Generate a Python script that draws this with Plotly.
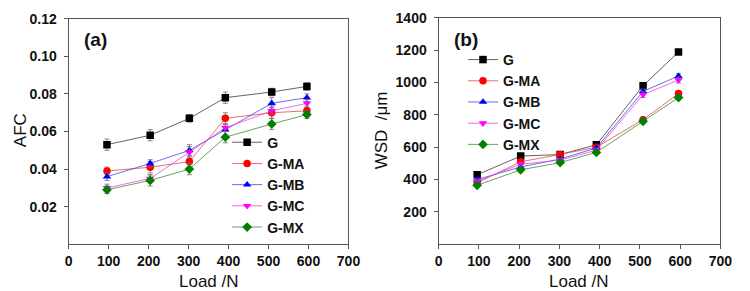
import plotly.graph_objects as go

load = [96, 204, 302, 392, 508, 596]
series = ["G", "G-MA", "G-MB", "G-MC", "G-MX"]

afc = {
    "G":    [0.053, 0.058, 0.067, 0.078, 0.081, 0.084],
    "G-MA": [0.039, 0.041, 0.044, 0.067, 0.070, 0.071],
    "G-MB": [0.036, 0.043, 0.050, 0.061, 0.075, 0.078],
    "G-MC": [0.030, 0.035, 0.049, 0.062, 0.071, 0.075],
    "G-MX": [0.029, 0.034, 0.040, 0.057, 0.064, 0.069],
}
afc_err = {
    "G":    [0.003, 0.003, 0.002, 0.003, 0.002, 0.002],
    "G-MA": [0.002, 0.003, 0.003, 0.003, 0.003, 0.002],
    "G-MB": [0.002, 0.002, 0.003, 0.003, 0.003, 0.002],
    "G-MC": [0.002, 0.002, 0.003, 0.002, 0.002, 0.002],
    "G-MX": [0.002, 0.003, 0.003, 0.003, 0.003, 0.002],
}
wsd = {
    "G":    [430, 545, 555, 615, 980, 1188],
    "G-MA": [380, 510, 555, 600, 770, 932],
    "G-MB": [400, 478, 527, 595, 945, 1040],
    "G-MC": [390, 495, 520, 582, 925, 1015],
    "G-MX": [365, 460, 505, 568, 760, 907],
}
wsd_err = {
    "G":    [15, 15, 12, 15, 18, 15],
    "G-MA": [12, 15, 12, 12, 15, 15],
    "G-MB": [12, 12, 12, 12, 15, 15],
    "G-MC": [12, 12, 12, 12, 18, 18],
    "G-MX": [12, 12, 12, 12, 15, 15],
}

afc_ticks = [0.02, 0.04, 0.06, 0.08, 0.10, 0.12]
afc_ticktext = ["0.02", "0.04", "0.06", "0.08", "0.10", "0.12"]
wsd_ticks = [200, 400, 600, 800, 1000, 1200, 1400]
x_ticks = [0, 100, 200, 300, 400, 500, 600, 700]

marker_color = {"G": "#000000", "G-MA": "#ff0000", "G-MB": "#0000ff",
                "G-MC": "#ff00ff", "G-MX": "#008000"}
line_color = {"G": "rgba(60,60,60,0.8)", "G-MA": "rgba(230,60,60,0.75)",
              "G-MB": "rgba(60,60,230,0.75)", "G-MC": "rgba(230,60,230,0.75)",
              "G-MX": "rgba(40,140,40,0.75)"}
symbols = {"G": "square", "G-MA": "circle", "G-MB": "triangle-up",
           "G-MC": "triangle-down", "G-MX": "diamond"}

FONT = "Liberation Sans, Arial, sans-serif"
W, H = 750, 291

fig = go.Figure()
for s in series:
    fig.add_trace(go.Scatter(
        x=load, y=afc[s], name=s, mode="lines+markers",
        line=dict(color=line_color[s], width=1),
        marker=dict(symbol=symbols[s], color=marker_color[s], size=7.5),
        error_y=dict(type="data", array=afc_err[s], color="rgba(110,110,110,0.8)",
                     thickness=1, width=2.5),
        xaxis="x", yaxis="y", legend="legend"))
for s in series:
    fig.add_trace(go.Scatter(
        x=load, y=wsd[s], name=s, mode="lines+markers",
        line=dict(color=line_color[s], width=1),
        marker=dict(symbol=symbols[s], color=marker_color[s], size=7.5),
        error_y=dict(type="data", array=wsd_err[s], color="rgba(110,110,110,0.8)",
                     thickness=1, width=2.5),
        xaxis="x2", yaxis="y2", legend="legend2"))

def px(x):
    return x / W

def py(y):
    return (H - y) / H

axis_common = dict(showgrid=False, zeroline=False, showline=True, linecolor="#555555",
                   linewidth=1, mirror=True, ticks="outside", ticklen=4,
                   tickcolor="#555555",
                   tickfont=dict(family=FONT, size=14, color="#111111", weight="bold"))

legend_font = dict(family=FONT, size=14, color="#111111", weight="bold")
title_font = dict(family=FONT, size=17, color="#111111")
panel_font = dict(family=FONT, size=19, color="#111111", weight="bold")

fig.update_layout(
    width=W, height=H, margin=dict(l=0, r=0, t=0, b=0),
    paper_bgcolor="white", plot_bgcolor="white", showlegend=True,
    xaxis=dict(domain=[px(66), px(352)], range=[0, 700], tickvals=x_ticks,
               anchor="y", **axis_common),
    yaxis=dict(domain=[py(243), py(11)], range=[0, 0.12], tickvals=afc_ticks,
               ticktext=afc_ticktext, anchor="x", ticklabelstandoff=4, **axis_common),
    xaxis2=dict(domain=[px(444), px(732)], range=[0, 700], tickvals=x_ticks,
                anchor="y2", **axis_common),
    yaxis2=dict(domain=[py(243), py(10)], range=[0, 1400], tickvals=wsd_ticks,
                anchor="x2", ticklabelstandoff=4, **axis_common),
    legend=dict(x=px(228), y=py(122), xanchor="left", yanchor="top",
                bgcolor="rgba(0,0,0,0)", borderwidth=0, font=legend_font,
                tracegroupgap=0, itemwidth=30),
    legend2=dict(x=px(469), y=py(37), xanchor="left", yanchor="top",
                 bgcolor="rgba(0,0,0,0)", borderwidth=0, font=legend_font,
                 tracegroupgap=0, itemwidth=30),
    annotations=[
        dict(text="(a)", x=px(94), y=py(32), xref="paper", yref="paper",
             xanchor="center", yanchor="middle", showarrow=False, font=panel_font),
        dict(text="(b)", x=px(472), y=py(32), xref="paper", yref="paper",
             xanchor="center", yanchor="middle", showarrow=False, font=panel_font),
        dict(text="AFC", x=px(17), y=py(126), xref="paper", yref="paper", textangle=-90,
             xanchor="center", yanchor="middle", showarrow=False, font=title_font),
        dict(text="WSD  /μm", x=px(386), y=py(126), xref="paper", yref="paper", textangle=-90,
             xanchor="center", yanchor="middle", showarrow=False, font=title_font),
        dict(text="Load /N", x=px(209), y=py(281), xref="paper", yref="paper",
             xanchor="center", yanchor="middle", showarrow=False, font=title_font),
        dict(text="Load /N", x=px(588), y=py(281), xref="paper", yref="paper",
             xanchor="center", yanchor="middle", showarrow=False, font=title_font),
    ],
)

fig.write_html("out.html")
